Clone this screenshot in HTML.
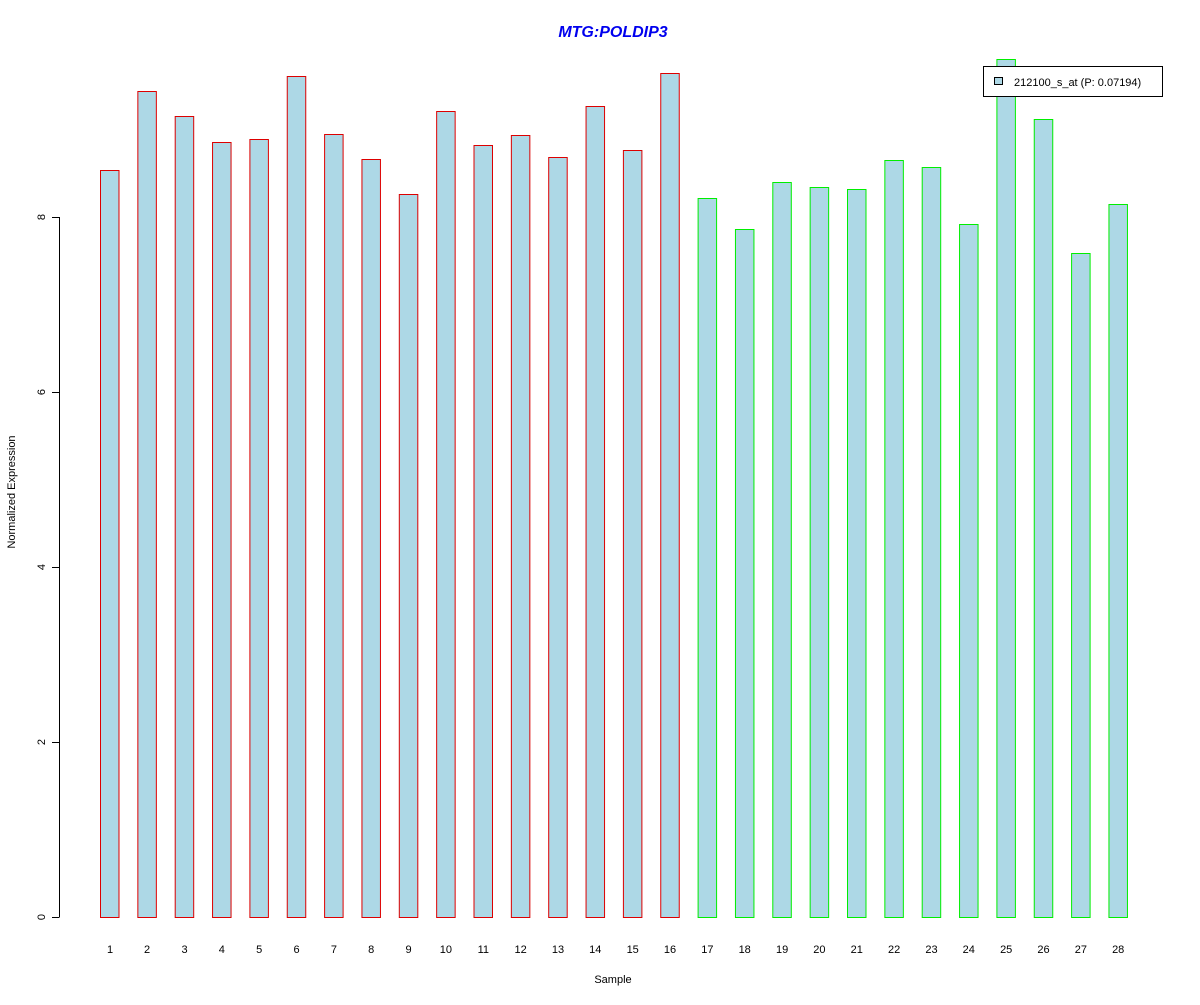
<!DOCTYPE html><html><head><style>body{margin:0;background:#fff}</style></head><body>
<svg width="1200" height="1000" xmlns="http://www.w3.org/2000/svg" font-family="Liberation Sans, sans-serif">
<rect width="1200" height="1000" fill="#fff"/>
<text x="613" y="37" text-anchor="middle" font-size="16" font-weight="bold" font-style="italic" fill="#0000ee">MTG:POLDIP3</text>
<g stroke="#000" fill="none">
<line x1="59.5" y1="217" x2="59.5" y2="917"/>
<line x1="52" y1="917.5" x2="59.5" y2="917.5"/><line x1="52" y1="742.5" x2="59.5" y2="742.5"/><line x1="52" y1="567.5" x2="59.5" y2="567.5"/><line x1="52" y1="392.5" x2="59.5" y2="392.5"/><line x1="52" y1="217.5" x2="59.5" y2="217.5"/>
</g>
<g font-size="11" text-anchor="middle">
<text transform="translate(45,917) rotate(-90)">0</text>
<text transform="translate(45,742) rotate(-90)">2</text>
<text transform="translate(45,567) rotate(-90)">4</text>
<text transform="translate(45,392) rotate(-90)">6</text>
<text transform="translate(45,217) rotate(-90)">8</text>
<text transform="translate(15,492) rotate(-90)">Normalized Expression</text>
<text x="613" y="983">Sample</text>
</g>
<g fill="#add8e6" stroke="#dd0000">
<rect x="100.5" y="170.5" width="18.5" height="747"/>
<rect x="137.85" y="91.5" width="18.5" height="826"/>
<rect x="175.2" y="116.5" width="18.5" height="801"/>
<rect x="212.55" y="142.5" width="18.5" height="775"/>
<rect x="249.9" y="139.5" width="18.5" height="778"/>
<rect x="287.25" y="76.5" width="18.5" height="841"/>
<rect x="324.6" y="134.5" width="18.5" height="783"/>
<rect x="361.95" y="159.5" width="18.5" height="758"/>
<rect x="399.3" y="194.5" width="18.5" height="723"/>
<rect x="436.65" y="111.5" width="18.5" height="806"/>
<rect x="474.0" y="145.5" width="18.5" height="772"/>
<rect x="511.35" y="135.5" width="18.5" height="782"/>
<rect x="548.7" y="157.5" width="18.5" height="760"/>
<rect x="586.05" y="106.5" width="18.5" height="811"/>
<rect x="623.4" y="150.5" width="18.5" height="767"/>
<rect x="660.75" y="73.5" width="18.5" height="844"/>
</g>
<g fill="#add8e6" stroke="#00ee00">
<rect x="698.1" y="198.5" width="18.5" height="719"/>
<rect x="735.45" y="229.5" width="18.5" height="688"/>
<rect x="772.8" y="182.5" width="18.5" height="735"/>
<rect x="810.15" y="187.5" width="18.5" height="730"/>
<rect x="847.5" y="189.5" width="18.5" height="728"/>
<rect x="884.85" y="160.5" width="18.5" height="757"/>
<rect x="922.2" y="167.5" width="18.5" height="750"/>
<rect x="959.55" y="224.5" width="18.5" height="693"/>
<rect x="996.9" y="59.5" width="18.5" height="858"/>
<rect x="1034.25" y="119.5" width="18.5" height="798"/>
<rect x="1071.6" y="253.5" width="18.5" height="664"/>
<rect x="1108.95" y="204.5" width="18.5" height="713"/>
</g>
<g font-size="11" text-anchor="middle">
<text x="110" y="953">1</text><text x="147.1" y="953">2</text><text x="184.5" y="953">3</text><text x="221.8" y="953">4</text><text x="259.2" y="953">5</text><text x="296.5" y="953">6</text><text x="333.9" y="953">7</text><text x="371.2" y="953">8</text><text x="408.6" y="953">9</text><text x="445.9" y="953">10</text><text x="483.3" y="953">11</text><text x="520.6" y="953">12</text><text x="558" y="953">13</text><text x="595.3" y="953">14</text><text x="632.7" y="953">15</text><text x="670" y="953">16</text><text x="707.4" y="953">17</text><text x="744.7" y="953">18</text><text x="782.1" y="953">19</text><text x="819.4" y="953">20</text><text x="856.8" y="953">21</text><text x="894.1" y="953">22</text><text x="931.5" y="953">23</text><text x="968.8" y="953">24</text><text x="1006.2" y="953">25</text><text x="1043.5" y="953">26</text><text x="1080.9" y="953">27</text><text x="1118.2" y="953">28</text>
</g>
<rect x="983.5" y="66.5" width="179" height="30" fill="#fff" stroke="#000"/>
<rect x="994.5" y="77.5" width="8" height="7" fill="#add8e6" stroke="#000"/>
<text x="1014" y="86" font-size="11">212100_s_at (P: 0.07194)</text>
</svg></body></html>
